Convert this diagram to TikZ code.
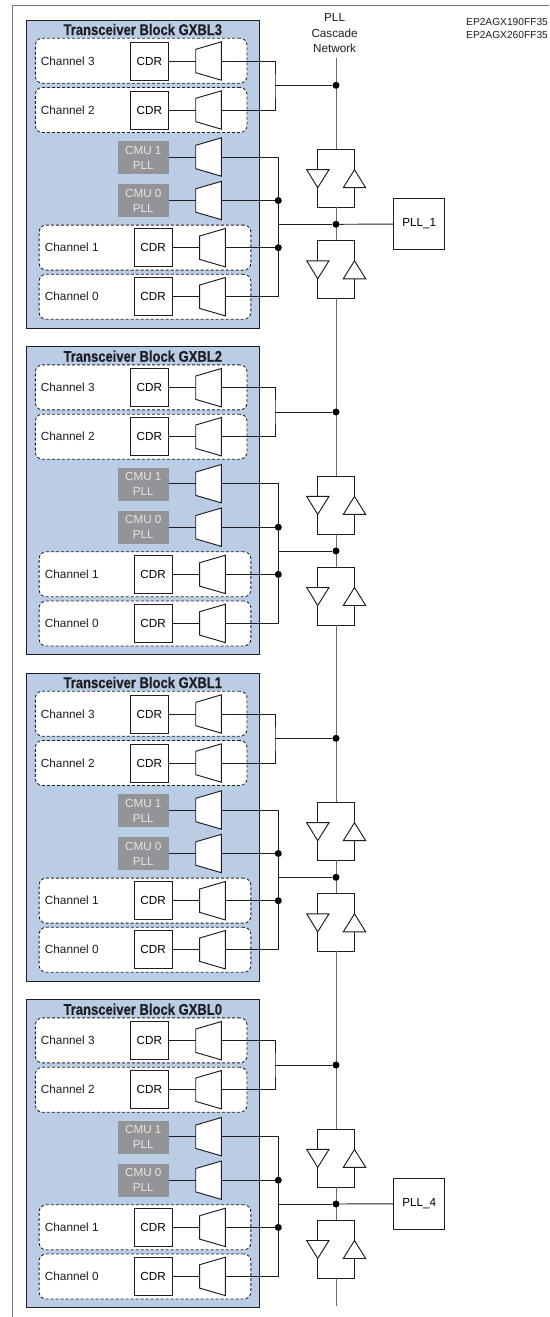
\documentclass[tikz,border=0pt]{standalone}
\usepackage{fontspec}
\setmainfont{Liberation Sans}
\newfontfamily\titlefont[FakeStretch=0.84,FakeBold=0.4]{Liberation Sans Bold}
\definecolor{blockfill}{HTML}{BBCDE5}
\definecolor{cmufill}{HTML}{929497}
\definecolor{inkdark}{HTML}{1E1E22}
\tikzset{
  wire/.style={draw=inkdark,line width=0.95pt},
  busline/.style={draw=black!58,line width=0.95pt},
  blockbox/.style={draw=inkdark,fill=blockfill,line width=1pt,minimum width=233pt,minimum height=308pt,inner sep=0pt},
  chanbox/.style={draw=inkdark,fill=white,dash pattern=on 3pt off 2pt,rounded corners=7pt,line width=0.85pt,minimum width=211.7pt,minimum height=45pt,inner sep=0pt},
  cdrbox/.style={draw=inkdark,fill=white,line width=0.95pt,minimum width=38pt,minimum height=38pt,inner sep=0pt,font=\fontsize{11.7}{13}\selectfont},
  cmubox/.style={fill=cmufill,text=white!90!black,minimum width=50.7pt,minimum height=33pt,inner sep=0pt,align=center,font=\fontsize{11.7}{15}\selectfont},
  muxbox/.style={minimum width=25.3pt,minimum height=38pt,inner sep=0pt},
  chlabel/.style={anchor=west,inner sep=0pt,text=inkdark,font=\fontsize{11.8}{13}\selectfont},
  titlelabel/.style={inner sep=0pt,text=inkdark,font=\titlefont\fontsize{15.5}{16}\selectfont},
  pllbox/.style={draw=inkdark,fill=white,line width=0.95pt,minimum width=51.3pt,minimum height=50.7pt,inner sep=0pt,font=\fontsize{11.7}{13}\selectfont},
  jdot/.style={circle,fill=black,inner sep=0pt,minimum size=7pt},
  notelabel/.style={inner sep=0pt,text=inkdark,align=left,anchor=north west,font=\fontsize{10.2}{12.6}\selectfont},
  headlabel/.style={inner sep=0pt,text=inkdark,align=center,font=\fontsize{11.7}{15.5}\selectfont},
}
% mux: name, x centre, y centre
\newcommand{\muxat}[3]{%
  \node[muxbox] (#1) at (#2,#3) {};
  \draw[wire,fill=white] (#1.west)++(0pt,-11.7pt) -- (#1.south east) -- (#1.north east) -- ([yshift=11.7pt]#1.west) -- cycle;
}
% buffer pair: y top
\newcommand{\bufpair}[2]{%
  \coordinate (#1top) at (336,#2);
  \coordinate (#1bot) at (336,#2+58);
  \draw[wire] (317.7,#2+20.4) -- (317.7,#2) -- (354.3,#2) -- (354.3,#2+20.4);
  \draw[wire] (317.7,#2+38.4) -- (317.7,#2+58) -- (354.3,#2+58) -- (354.3,#2+38.4);
  \draw[wire,fill=white] (306.7,#2+20.4) -- (329,#2+20.4) -- (317.7,#2+38.4) -- cycle;
  \draw[wire,fill=white] (343.3,#2+38.4) -- (365.7,#2+38.4) -- (354.5,#2+20.4) -- cycle;
}
\begin{document}
\begin{tikzpicture}[x=1pt,y=-1pt]
\useasboundingbox (0,0) rectangle (549,1317);
\fill[white] (0,0) rectangle (549,1317);
\coordinate (fa) at (12.5,1317);
\coordinate (fb) at (12.5,5.5);
\coordinate (fc) at (549,5.5);
\draw[black!55,line width=1.5pt] (fa) -- (fb) -- (fc);
\node[headlabel] (head) at (334.6,33.2) {PLL\\Cascade\\Network};
\node[notelabel] (note) at (466,18.5) {EP2AGX190FF35\\EP2AGX260FF35};
\coordinate (pairLtopbot) at (336,57.7);
\foreach \n/\p/\o in {3/top/0,2/3/326.7,1/2/653,0/1/979.7}{
  \node[blockbox] (blk\n) at (142.8,\o+174) {};
  \node[titlelabel] (ttl\n) at (142.8,\o+29.5) {Transceiver Block GXBL\n};
  \node[chanbox] (ch3box\n) at (141.2,\o+60.7) {};
  \node[chanbox] (ch2box\n) at (141.2,\o+110) {};
  \node[chanbox] (ch1box\n) at (145,\o+247.6) {};
  \node[chanbox] (ch0box\n) at (145,\o+296.8) {};
  \node[chlabel] (ch3txt\n) at (40.7,\o+61) {Channel 3};
  \node[chlabel] (ch2txt\n) at (40.7,\o+110) {Channel 2};
  \node[chlabel] (ch1txt\n) at (44.7,\o+247.7) {Channel 1};
  \node[chlabel] (ch0txt\n) at (44.7,\o+296.7) {Channel 0};
  \node[cdrbox] (cdr3\n) at (149.3,\o+61) {CDR};
  \node[cdrbox] (cdr2\n) at (149.3,\o+110) {CDR};
  \node[cdrbox] (cdr1\n) at (153.1,\o+247.7) {CDR};
  \node[cdrbox] (cdr0\n) at (153.1,\o+296.7) {CDR};
  \node[cmubox] (cmub\n) at (143.3,\o+157.5) {CMU 1\\PLL};
  \node[cmubox] (cmua\n) at (143.3,\o+200.5) {CMU 0\\PLL};
  \muxat{mux3\n}{208.6}{\o+61}
  \muxat{mux2\n}{208.6}{\o+110}
  \muxat{muxb\n}{208.6}{\o+157}
  \muxat{muxa\n}{208.6}{\o+200.5}
  \muxat{mux1\n}{212.5}{\o+247.7}
  \muxat{mux0\n}{212.5}{\o+296.7}
  \draw[wire] (cdr3\n.east) -- (mux3\n.west);
  \draw[wire] (cdr2\n.east) -- (mux2\n.west);
  \draw[wire] (cdr1\n.east) -- (mux1\n.west);
  \draw[wire] (cdr0\n.east) -- (mux0\n.west);
  \draw[wire] (cmub\n.east |- muxb\n.west) -- (muxb\n.west);
  \draw[wire] (cmua\n.east) -- (muxa\n.west);
  % buffers and bus
  \bufpair{pairU\n}{\o+149.3}
  \bufpair{pairL\n}{\o+240.4}
  \draw[busline] (pairL\p bot) -- (pairU\n top);
  \draw[busline] (pairU\n bot) -- (pairL\n top);
  % upper pair of channels to the cascade bus
  \coordinate (ra\n) at (275,\o+85.3);
  \node[jdot] (upj\n) at (336,\o+85.3) {};
  \draw[wire] (mux3\n.east) -| (ra\n) |- (mux2\n.east);
  \draw[wire] (ra\n) -- (upj\n);
  % clock multiplier and lower channels to the bus
  \coordinate (rb\n) at (278.3,\o+224.3);
  \node[jdot] (dota\n) at (278.3,\o+200.5) {};
  \node[jdot] (dotb\n) at (278.3,\o+247.7) {};
  \node[jdot] (midj\n) at (336,\o+224.3) {};
  \draw[wire] (muxb\n.east) -| (rb\n) |- (mux0\n.east);
  \draw[wire] (muxa\n.east) -- (dota\n);
  \draw[wire] (mux1\n.east) -- (dotb\n);
  \draw[wire] (rb\n) -- (midj\n);
}
\coordinate (busend) at (336,1306);
\draw[busline] (pairL0bot) -- (busend);
\node[pllbox] (pllone) at (419.3,224) {PLL\_1};
\node[pllbox] (pllfour) at (419.3,1203.7) {PLL\_4};
\draw[wire] (midj3) -- (pllone);
\draw[wire] (midj0) -- (pllfour);
\end{tikzpicture}
\end{document}
